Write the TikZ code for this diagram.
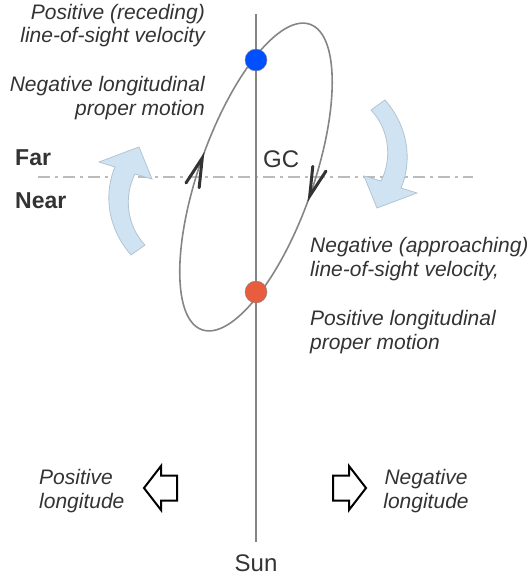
\documentclass[tikz,border=0pt]{standalone}
\usepackage{fontspec}
\setmainfont{Liberation Sans}
\usetikzlibrary{decorations.markings}

\definecolor{txtgray}{HTML}{333333}
\definecolor{linegray}{HTML}{858585}
\definecolor{dashgray}{HTML}{BBBBBB}
\definecolor{dotblue}{HTML}{0050FF}
\definecolor{dotred}{HTML}{E85D3D}
\definecolor{swirlfill}{HTML}{CFE3F2}
\definecolor{swirlline}{HTML}{B2C4D2}

\tikzset{
    notetext/.style={inner sep=0pt, text=txtgray, font=\fontsize{21}{24}\selectfont\itshape},
    bigtext/.style={inner sep=0pt, text=txtgray, font=\fontsize{24}{28}\selectfont},
    sidetext/.style={inner sep=0pt, text=txtgray, font=\fontsize{23}{28}\selectfont\bfseries},
    dot/.style={circle, draw=linegray, line width=0.4pt, minimum size=22pt, inner sep=0pt},
    orbittip/.style={draw=txtgray, line width=3pt, line cap=round, line join=miter},
    swirl/.pic={
        \draw[fill=swirlfill, draw=swirlline, line width=0.8pt]
            (5,55) .. controls (-21,25) and (-21,-10) .. (-11,-33)
            -- (-27,-38) -- (13,-53) -- (26,-21) -- (9,-26)
            .. controls (-2,-5) and (0,25) .. (19,45) -- cycle;
    },
    lonarrow/.pic={
        \draw[black, line width=2pt, line join=miter, fill=white]
            (17,0) -- (0,-22) -- (0,-12.5) -- (-16,-12.5) -- (-16,12.5)
            -- (0,12.5) -- (0,22) -- cycle;
    }
}

\begin{document}
\begin{tikzpicture}[x=1pt, y=-1pt]
    \useasboundingbox (0,0) rectangle (531,578);

    % Axes
    \coordinate (farleft) at (38,177);
    \coordinate (farright) at (473,177);
    \coordinate (top) at (256,14);
    \coordinate (bottom) at (256,542);
    \coordinate (gc) at (256,177);
    \draw[dashgray, line width=1.6pt, dash pattern=on 12pt off 5pt on 3pt off 5pt] (farleft) -- (farright);
    \draw[linegray, line width=1.6pt] (top) -- (bottom);

    % Orbit
    \draw[linegray, line width=1.6pt, rotate around={70.5:(gc)},
        postaction={decorate},
        decoration={markings,
            mark=at position 0.25 with {\draw[orbittip] (29,-7) -- (0,0) -- (29,7);},
            mark=at position 0.75 with {\draw[orbittip] (29,-7) -- (0,0) -- (29,7);}}]
        (gc) ellipse [x radius=162pt, y radius=57pt];

    % Dots
    \node[dot, fill=dotblue] (recdot) at (256,60) {};
    \node[dot, fill=dotred] (appdot) at (256,292) {};

    % Rotation arrows
    \pic at (126,200) {swirl};
    \pic[rotate=180] at (390,155) {swirl};

    % Longitude arrows
    \pic[rotate=180] at (161,488) {lonarrow};
    \pic at (349,488) {lonarrow};

    % Labels
    \node[notetext, anchor=base east, align=right] (recede) at (205,43) {Positive (receding)\\line-of-sight velocity};
    \node[notetext, anchor=base east, align=right] (negpm) at (205,115) {Negative longitudinal\\proper motion};
    \node[notetext, anchor=base west, align=left] (approach) at (310,276) {Negative (approaching)\\line-of-sight velocity,};
    \node[notetext, anchor=base west, align=left] (pospm) at (310,349) {Positive longitudinal\\proper motion};
    \node[notetext, anchor=base west, align=left] (poslon) at (39,508) {Positive\\longitude};
    \node[notetext, anchor=base, align=center] (neglon) at (426,508) {Negative\\longitude};

    \node[bigtext, anchor=base west] (gclabel) at (263,167) {GC};
    \node[bigtext, anchor=base] (sun) at (256,571) {Sun};
    \node[sidetext, anchor=base west] (far) at (15,165) {Far};
    \node[sidetext, anchor=base west] (near) at (15,208) {Near};
\end{tikzpicture}
\end{document}
